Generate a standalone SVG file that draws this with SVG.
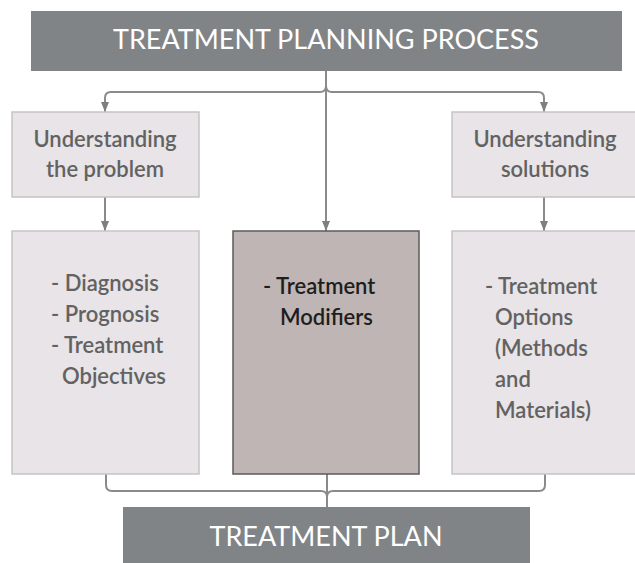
<svg xmlns="http://www.w3.org/2000/svg" width="635" height="563" viewBox="0 0 635 563">
  <defs>
    <marker id="arrow" markerWidth="10" markerHeight="8" refX="10" refY="4" orient="auto" markerUnits="userSpaceOnUse">
      <path d="M0,0 L10,4 L0,8 Z" fill="#7f7f7f"/>
    </marker>
  </defs>
  <style>
    .banner { fill: #818487; }
    .light { fill: #e8e4e7; stroke: #c6c3c5; stroke-width: 1.5; }
    .dark { fill: #bfb5b4; stroke: #5b5b5b; stroke-width: 1.5; }
    .wire { fill: none; stroke: #8a8a8a; stroke-width: 2; }
    .head { font-family: Lato, "Noto Sans", "Liberation Sans", sans-serif; font-size: 27px; fill: #ffffff; text-anchor: middle; }
    .label { font-family: Lato, "Noto Sans", "Liberation Sans", sans-serif; font-size: 22px; font-weight: 600; fill: #626262; }
    .mid { text-anchor: middle; }
    .ink { fill: #1e1e1e; }
  </style>
  <rect width="635" height="563" fill="#ffffff"/>

  <g id="connectors">
    <path class="wire" d="M326,71 V231" marker-end="url(#arrow)"/>
    <path class="wire" d="M326,86 Q326,92 320,92 H111 Q105,92 105,98 V112" marker-end="url(#arrow)"/>
    <path class="wire" d="M326,86 Q326,92 332,92 H538 Q544,92 544,98 V112" marker-end="url(#arrow)"/>
    <path class="wire" d="M105,197 V231" marker-end="url(#arrow)"/>
    <path class="wire" d="M544,197 V231" marker-end="url(#arrow)"/>
    <path class="wire" d="M106,474 V485 Q106,491 112,491 H321 Q327,491 327,497"/>
    <path class="wire" d="M545,474 V485 Q545,491 539,491 H333 Q327,491 327,497"/>
    <path class="wire" d="M327,474 V507"/>
  </g>

  <g id="planning-process">
    <rect class="banner" x="31" y="11" width="591" height="60"/>
    <text class="head" x="326" y="49">TREATMENT PLANNING PROCESS</text>
  </g>

  <g id="understanding-problem">
    <rect class="light" x="12" y="112" width="187" height="85"/>
    <text class="label mid" x="105" y="147">Understanding</text>
    <text class="label mid" x="105" y="177">the problem</text>
  </g>

  <g id="understanding-solutions">
    <rect class="light" x="452" y="112" width="190" height="85"/>
    <text class="label mid" x="545" y="147">Understanding</text>
    <text class="label mid" x="545" y="177">solutions</text>
  </g>

  <g id="problem-details">
    <rect class="light" x="12" y="231" width="187" height="243"/>
    <text class="label" x="51" y="291">- Diagnosis</text>
    <text class="label" x="51" y="322">- Prognosis</text>
    <text class="label" x="51" y="353">- Treatment</text>
    <text class="label" x="62" y="384">Objectives</text>
  </g>

  <g id="treatment-modifiers">
    <rect class="dark" x="233" y="231" width="186" height="243"/>
    <text class="label ink" x="263" y="294">- Treatment</text>
    <text class="label ink" x="280" y="325">Modifiers</text>
  </g>

  <g id="treatment-options">
    <rect class="light" x="452" y="231" width="190" height="243"/>
    <text class="label" x="485" y="294">- Treatment</text>
    <text class="label" x="495" y="325">Options</text>
    <text class="label" x="495" y="356">(Methods</text>
    <text class="label" x="495" y="387">and</text>
    <text class="label" x="495" y="418">Materials)</text>
  </g>

  <g id="treatment-plan">
    <rect class="banner" x="123" y="507" width="407" height="60"/>
    <text class="head" x="326" y="546">TREATMENT PLAN</text>
  </g>
</svg>
